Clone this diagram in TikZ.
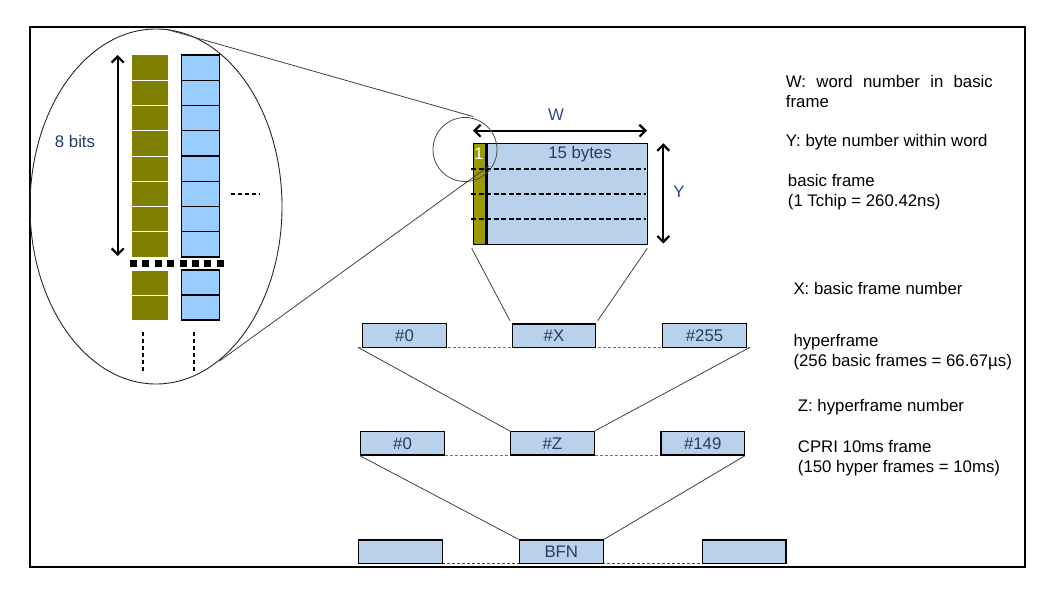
\documentclass[tikz,border=0pt]{standalone}
\usepackage{fontspec}
\setmainfont{Liberation Sans}
\usetikzlibrary{arrows.meta}
\definecolor{fblue}{HTML}{B9D1EA}
\definecolor{bblue}{HTML}{99CCFF}
\definecolor{oliveA}{HTML}{808000}
\definecolor{oliveB}{HTML}{999900}
\definecolor{navy}{HTML}{263D66}
\definecolor{wblue}{HTML}{2B4C8C}
\begin{document}
\begin{tikzpicture}[x=1pt,y=-1pt,
  txt/.style={font=\fontsize{16.8}{19}\selectfont, inner sep=0pt},
  navytxt/.style={txt, text=navy},
  frbox/.style={draw=black, fill=fblue, line width=1.4pt, minimum width=84pt, minimum height=23.5pt, inner sep=0pt, text=navy, font=\fontsize{16.8}{19}\selectfont},
  zoomline/.style={line width=0.8pt, draw=black!75},
  rowdash/.style={line width=0.9pt, draw=black!55, dash pattern=on 3pt off 2pt},
  dblarrow/.style={line width=2.2pt, {Straight Barb[length=6pt,width=12pt]}-{Straight Barb[length=6pt,width=12pt]}},
  olivecell/.style={fill=oliveA, draw=white, line width=1pt},
  bluecell/.style={fill=bblue, draw=black, line width=1.2pt}
]
\useasboundingbox (0,0) rectangle (1039,594);
% outer border
\draw[line width=1.4pt] (30,27) rectangle (1025,567);

% ---------- magnified view ----------
\draw[line width=0.9pt, draw=black!85] (156,206.5) ellipse [x radius=126pt, y radius=177.5pt];
\foreach \i in {0,...,7} {
  \draw[olivecell] (131,55+\i*25.25) rectangle ++(37,25.25);
  \draw[bluecell] (181.3,55+\i*25.25) rectangle ++(38,25.25);
}
\foreach \i in {0,1} {
  \draw[olivecell] (131,270+\i*25) rectangle ++(37,25);
  \draw[bluecell] (181.3,270+\i*25) rectangle ++(38,25);
}
\draw[line width=7pt, dash pattern=on 7pt off 5.4pt] (130,263.3) -- (226,263.3);
\draw[line width=1.8pt, dash pattern=on 4pt off 3pt] (230.7,193.7) -- (259,193.7);
\draw[line width=1.8pt, dash pattern=on 4pt off 3pt] (143.3,332) -- (143.3,372);
\draw[line width=1.8pt, dash pattern=on 4pt off 3pt] (193.7,332) -- (193.7,372);
\coordinate (bt) at (117.7,55);
\coordinate (bb) at (117.7,256);
\draw[dblarrow] (bt) -- (bb);
\node[txt, text=navy] (bits) at (75,141.7) {8 bits};

% ---------- basic frame ----------
\node[draw=black, fill=oliveB, line width=1.2pt, minimum width=12.4pt, minimum height=101pt, inner sep=0pt] (ctl) at (479.5,193.8) {};
\node[draw=black, fill=fblue, line width=1.4pt, minimum width=160.3pt, minimum height=101pt, inner sep=0pt] (bf) at (567.2,193.8) {};
\node[txt, text=white, anchor=west] (one) at (473.8,153.5) {1};
\node[navytxt] (bytes) at (580,154) {15 bytes};
\foreach \yy in {168.7,193.7,218.7}
  \draw[line width=1.8pt, dash pattern=on 5pt off 2.5pt] (471,\yy) -- (646,\yy);
\coordinate (wl) at (473,130.7);
\coordinate (wr) at (647,130.7);
\draw[dblarrow] (wl) -- (wr);
\node[txt, text=wblue] (W) at (556,115) {W};
\coordinate (yt) at (663.3,143.3);
\coordinate (yb) at (663.3,243.5);
\draw[dblarrow] (yt) -- (yb);
\node[txt, text=wblue] (Y) at (679,191.7) {Y};

% zoom circle and lines
\node[circle, draw=black!70, line width=0.8pt, minimum size=64pt, inner sep=0pt] (zc) at (465,149.5) {};
\coordinate (e1) at (167,29.5);
\coordinate (c1) at (473,116.5);
\coordinate (e2) at (219.5,361);
\coordinate (c2) at (489,166);
\draw[zoomline] (e1) -- (c1);
\draw[zoomline] (e2) -- (c2);

% ---------- hyperframe row ----------
\coordinate (r1l) at (358,347.3);
\coordinate (r1r) at (750,347.3);
\draw[rowdash] (r1l) -- (r1r);
\node[frbox, minimum width=84.4pt, minimum height=24pt] (h0) at (404.5,335.3) {\#0};
\node[frbox, minimum width=83.4pt, minimum height=23.3pt] (hX) at (554,335.7) {\#X};
\node[frbox, minimum width=84.4pt, minimum height=24pt] (h255) at (704.5,335.3) {\#255};
\coordinate (f1) at (471.7,248.3);
\coordinate (f2) at (647.3,248.3);
\coordinate (x1) at (510,320.7);
\coordinate (x2) at (597.7,320.7);
\draw[zoomline] (f1) -- (x1);
\draw[zoomline] (f2) -- (x2);

% ---------- 10ms frame row ----------
\coordinate (r2l) at (395,455);
\coordinate (r2r) at (730,455);
\draw[rowdash] (r2l) -- (r2r);
\node[frbox, minimum height=23.3pt] (z0) at (402.5,443.3) {\#0};
\node[frbox] (zZ) at (552.3,443.3) {\#Z};
\node[frbox, minimum width=83.3pt, minimum height=23.3pt] (z149) at (702.7,443.3) {\#149};
\draw[zoomline] (r1l) -- (zZ.north west);
\draw[zoomline] (r1r) -- (zZ.north east);

% ---------- BFN row ----------
\coordinate (r3l) at (442,563.3);
\coordinate (r3r) at (702,563.3);
\draw[line width=0.9pt, draw=black!75, dash pattern=on 3pt off 2pt] (r3l) -- (r3r);
\node[frbox, minimum height=23.3pt] (bL) at (400.3,551.7) {};
\node[frbox, minimum height=23.3pt] (bfn) at (561.3,551.7) {BFN};
\node[frbox, minimum width=83.7pt, minimum height=23.3pt] (bR) at (744.2,551.7) {};
\draw[zoomline] (z0.south west) -- (bfn.north west);
\draw[zoomline] (z149.south east) -- (bfn.north east);

% ---------- right-hand legend ----------
\node[txt, anchor=base west] (lw) at (785.7,87.3) {\makebox[207pt][s]{W:\ word number in basic}};
\node[txt, anchor=base west] (lw2) at (785.7,107.3) {frame};
\node[txt, anchor=base west] (ly) at (785.7,146) {Y: byte number within word};
\node[txt, anchor=base west] (lb) at (787.7,186) {basic frame};
\node[txt, anchor=base west] (lb2) at (787.7,206) {(1 Tchip = 260.42ns)};
\node[txt, anchor=base west] (lx) at (793.3,294.3) {X: basic frame number};
\node[txt, anchor=base west] (lh) at (793.3,346) {hyperframe};
\node[txt, anchor=base west] (lh2) at (793.3,366) {(256 basic frames = 66.67µs)};
\node[txt, anchor=base west] (lz) at (797.7,411.7) {Z: hyperframe number};
\node[txt, anchor=base west] (lc) at (797.7,452.7) {CPRI 10ms frame};
\node[txt, anchor=base west] (lc2) at (797.7,472.7) {(150 hyper frames = 10ms)};
\end{tikzpicture}
\end{document}
